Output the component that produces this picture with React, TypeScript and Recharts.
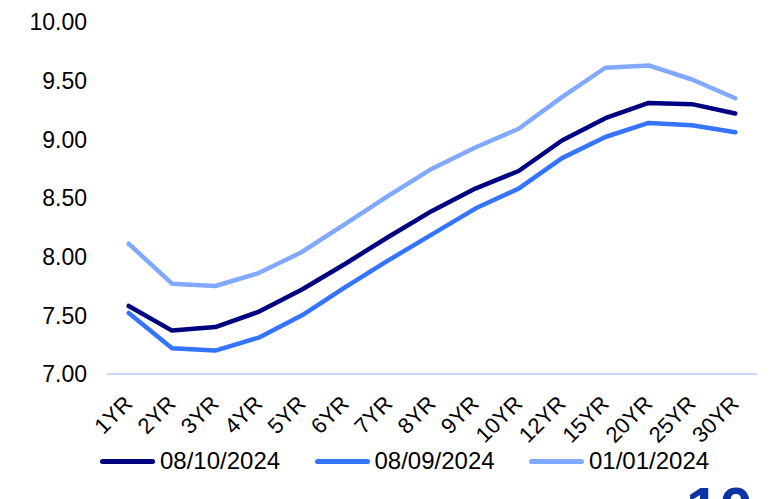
import React from "react";
import { LineChart, Line, XAxis, YAxis, Legend } from "recharts";

// Tenors along the curve
const tenors = ["1YR", "2YR", "3YR", "4YR", "5YR", "6YR", "7YR", "8YR", "9YR", "10YR", "12YR", "15YR", "20YR", "25YR", "30YR"];

// Yields (%) for each curve date
const curve20241008 = [7.58, 7.37, 7.40, 7.53, 7.72, 7.94, 8.17, 8.39, 8.58, 8.73, 8.99, 9.18, 9.31, 9.30, 9.22];
const curve20240908 = [7.52, 7.22, 7.20, 7.31, 7.50, 7.74, 7.97, 8.19, 8.41, 8.58, 8.84, 9.02, 9.14, 9.12, 9.06];
const curve20240101 = [8.11, 7.77, 7.75, 7.86, 8.04, 8.28, 8.52, 8.75, 8.93, 9.09, 9.36, 9.61, 9.63, 9.51, 9.35];

const yTicks = [7, 7.5, 8, 8.5, 9, 9.5, 10];

const seriesDefs = [
  { key: "d1", name: "08/10/2024", color: "#000080", values: curve20241008 },
  { key: "d2", name: "08/09/2024", color: "#3474ff", values: curve20240908 },
  { key: "d3", name: "01/01/2024", color: "#80a9ff", values: curve20240101 },
];

const data = tenors.map((t, i) => {
  const row: Record<string, string | number> = { tenor: t };
  seriesDefs.forEach((s) => {
    row[s.key] = s.values[i];
  });
  return row;
});

const FONT = "'Liberation Sans', Arial, sans-serif";

const XTick = (props: any) => {
  const { x, y, payload } = props;
  const px = x + 5;
  const py = y + 31;
  return (
    <text
      x={px}
      y={py}
      transform={`rotate(-45, ${px}, ${py})`}
      textAnchor="end"
      fontFamily={FONT}
      fontSize={22}
      fill="#000"
    >
      {payload.value}
    </text>
  );
};

const YTick = (props: any) => {
  const { x, y, payload } = props;
  return (
    <text x={x} y={y} dy="0.36em" textAnchor="end" fontFamily={FONT} fontSize={23} fill="#000">
      {Number(payload.value).toFixed(2)}
    </text>
  );
};

// Legend follows the series definition order
const LegendContent = () => (
  <div style={{ position: "relative", height: 59 }}>
    {seriesDefs.map((s, i) => (
      <div
        key={s.key}
        style={{
          position: "absolute",
          left: 100 + i * 214.5,
          top: 8,
          display: "flex",
          alignItems: "center",
          height: 26,
        }}
      >
        <div style={{ width: 55, height: 5, borderRadius: 3, background: s.color }} />
        <span style={{ marginLeft: 5, fontFamily: FONT, fontSize: 24, color: "#000", lineHeight: "26px" }}>
          {s.name}
        </span>
      </div>
    ))}
  </div>
);

export default function App() {
  return (
    <div style={{ position: "absolute", left: 0, top: 0, width: 769, height: 499, overflow: "hidden", background: "#fff" }}>
      <div
        style={{
          position: "absolute",
          left: 686,
          top: 479,
          fontFamily: FONT,
          fontWeight: 700,
          fontSize: 60,
          lineHeight: "60px",
          color: "#0b33a3",
        }}
      >
        10
      </div>
      <div style={{ position: "absolute", left: 0, top: 0 }}>
        <LineChart width={769} height={499} data={data} margin={{ top: 22, right: 12, bottom: 0, left: 0 }}>
          <XAxis
            dataKey="tenor"
            interval={0}
            height={66}
            tickSize={0}
            tickMargin={0}
            tickLine={false}
            axisLine={{ stroke: "#c6d6f6", strokeWidth: 2 }}
            padding={{ left: 21.7, right: 21.7 }}
            tick={<XTick />}
          />
          <YAxis
            domain={[7, 10]}
            ticks={yTicks}
            width={107}
            tickSize={0}
            tickMargin={20}
            tickLine={false}
            axisLine={false}
            tick={<YTick />}
          />
          <Legend verticalAlign="bottom" height={59} content={<LegendContent />} />
          {seriesDefs.map((s) => (
            <Line
              key={s.key}
              type="linear"
              dataKey={s.key}
              name={s.name}
              stroke={s.color}
              strokeWidth={4.5}
              strokeLinecap="round"
              strokeLinejoin="round"
              dot={false}
              activeDot={false}
              isAnimationActive={false}
            />
          ))}
        </LineChart>
      </div>
    </div>
  );
}
